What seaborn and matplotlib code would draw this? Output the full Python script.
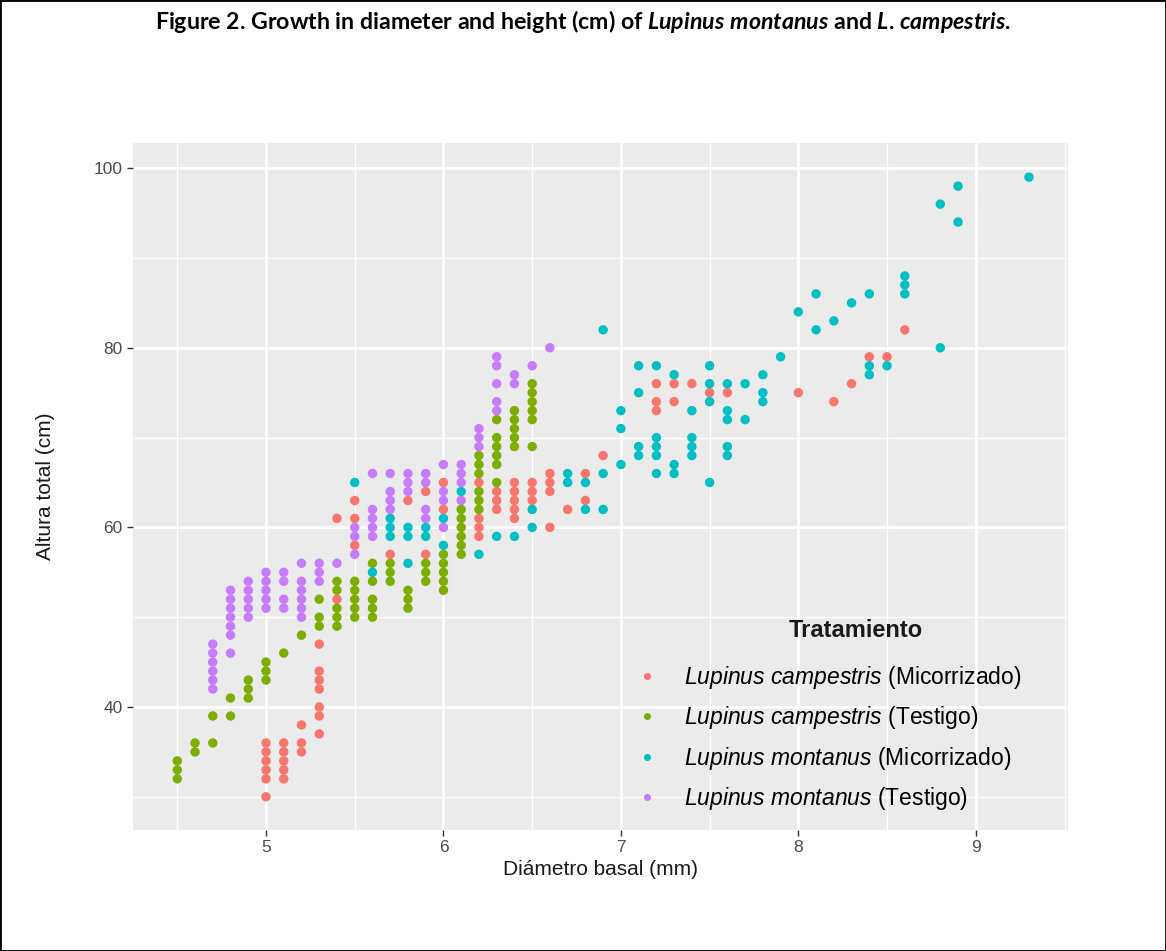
import matplotlib
matplotlib.use("Agg")

import pandas as pd
import seaborn as sns
from matplotlib import pyplot as plt
from matplotlib.patches import Rectangle

GROUPS = [
    "Lupinus campestris (Micorrizado)",
    "Lupinus campestris (Testigo)",
    "Lupinus montanus (Micorrizado)",
    "Lupinus montanus (Testigo)",
]
LEGEND_LABELS = [
    r"$\it{Lupinus\ campestris}$ (Micorrizado)",
    r"$\it{Lupinus\ campestris}$ (Testigo)",
    r"$\it{Lupinus\ montanus}$ (Micorrizado)",
    r"$\it{Lupinus\ montanus}$ (Testigo)",
]
COLORS = ["#F8766D", "#7CAE00", "#00BFC4", "#C77CFF"]

# basal diameter (mm) -> total heights (cm)
campestris_mic = [
    (5.0, [30, 32, 33, 34, 35, 36]), (5.1, [32, 33, 34, 35, 36]), (5.2, [35, 36, 38]),
    (5.3, [37, 39, 40, 42, 43, 44, 47]), (5.4, [52, 61]), (5.5, [58, 61, 63]),
    (5.7, [57]), (5.8, [63]), (5.9, [57, 64]), (6.0, [62, 65]),
    (6.2, [59, 60, 61, 65]), (6.3, [62, 63, 64]), (6.4, [61, 62, 63, 64, 65]),
    (6.5, [63, 64, 65]), (6.6, [60, 64, 65, 66]), (6.7, [62]), (6.8, [63, 66]),
    (6.9, [68]), (7.2, [73, 74, 76]), (7.3, [74, 76]), (7.4, [76]), (7.5, [75]),
    (7.6, [75]), (8.0, [75]), (8.2, [74]), (8.3, [76]), (8.4, [79]), (8.5, [79]),
    (8.6, [82]),
]
campestris_tes = [
    (4.5, [32, 33, 34]), (4.6, [35, 36]), (4.7, [36, 39]), (4.8, [39, 41]),
    (4.9, [41, 42, 43]), (5.0, [43, 44, 45]), (5.1, [46]), (5.2, [48]),
    (5.3, [49, 50, 52]), (5.4, [49, 50, 51, 53, 54]), (5.5, [50, 51, 52, 53, 54]),
    (5.6, [50, 51, 52, 54, 56]), (5.7, [54, 55, 56]), (5.8, [51, 52, 53]),
    (5.9, [54, 55, 56]), (6.0, [53, 54, 55, 56, 57]), (6.1, [57, 58, 59, 60, 61, 62]),
    (6.2, [62, 63, 64, 66, 67, 68]), (6.3, [65, 67, 68, 69, 70, 72]),
    (6.4, [69, 70, 71, 72, 73]), (6.5, [69, 72, 73, 74, 75, 76]),
]
montanus_mic = [
    (5.5, [65]), (5.6, [55]), (5.7, [59, 60, 61]), (5.8, [56, 59, 60]), (5.9, [59, 60]),
    (6.0, [58, 61]), (6.1, [64]), (6.2, [57]), (6.3, [59]), (6.4, [59]),
    (6.5, [60, 62]), (6.7, [65, 66]), (6.8, [62, 65]), (6.9, [62, 66, 82]),
    (7.0, [67, 71, 73]), (7.1, [68, 69, 75, 78]), (7.2, [66, 68, 69, 70, 78]),
    (7.3, [66, 67, 77]), (7.4, [68, 69, 70, 73]), (7.5, [65, 74, 76, 78]),
    (7.6, [68, 69, 72, 73, 76]), (7.7, [72, 76]), (7.8, [74, 75, 77]), (7.9, [79]),
    (8.0, [84]), (8.1, [82, 86]), (8.2, [83]), (8.3, [85]), (8.4, [77, 78, 86]),
    (8.5, [78]), (8.6, [86, 87, 88]), (8.8, [80, 96]), (8.9, [94, 98]), (9.3, [99]),
]
montanus_tes = [
    (4.7, [42, 43, 44, 45, 46, 47]), (4.8, [46, 48, 49, 50, 51, 52, 53]),
    (4.9, [50, 51, 52, 53, 54]), (5.0, [51, 52, 53, 54, 55]), (5.1, [51, 52, 54, 55]),
    (5.2, [50, 51, 52, 53, 54, 56]), (5.3, [54, 55, 56]), (5.4, [56]),
    (5.5, [57, 59, 60]), (5.6, [59, 60, 61, 62, 66]), (5.7, [62, 63, 64, 66]),
    (5.8, [64, 65, 66]), (5.9, [61, 62, 65, 66]), (6.0, [60, 63, 64, 67]),
    (6.1, [63, 65, 66, 67]), (6.2, [69, 70, 71]), (6.3, [73, 74, 76, 78, 79]),
    (6.4, [76, 77]), (6.5, [78]), (6.6, [80]),
]

rows = []
for group, cols in zip(GROUPS, [campestris_mic, campestris_tes, montanus_mic, montanus_tes]):
    for d, hs in cols:
        for h in hs:
            rows.append((d, h, group))
df = pd.DataFrame(rows, columns=["Diametro", "Altura", "Tratamiento"])

plt.rcParams["font.family"] = ["Liberation Sans", "DejaVu Sans"]
plt.rcParams["mathtext.fontset"] = "custom"
plt.rcParams["mathtext.rm"] = "Liberation Sans"
plt.rcParams["mathtext.it"] = "Liberation Sans:italic"
plt.rcParams["mathtext.bfit"] = "Lato:italic:bold"

fig = plt.figure(figsize=(11.66, 9.51), dpi=100)
ax = fig.add_axes([0.114, 0.1272, 0.802, 0.7224])
ax.set_facecolor("#EBEBEB")

sns.scatterplot(data=df, x="Diametro", y="Altura", hue="Tratamiento", hue_order=GROUPS,
                palette=COLORS, s=46, edgecolor="none", linewidth=0, ax=ax, zorder=3)

ax.set_xlim(4.25, 9.52)
ax.set_ylim(26.3, 102.8)
ax.set_xticks([5, 6, 7, 8, 9])
ax.set_yticks([40, 60, 80, 100])
ax.set_xticks([4.5, 5.5, 6.5, 7.5, 8.5, 9.5], minor=True)
ax.set_yticks([30, 50, 70, 90], minor=True)
ax.grid(which="major", color="white", linewidth=2.0, zorder=0)
ax.grid(which="minor", color="white", linewidth=1.0, zorder=0)
ax.set_axisbelow(True)
for s in ax.spines.values():
    s.set_visible(False)
ax.tick_params(which="major", length=4, width=1, color="#333333", labelcolor="#4D4D4D", labelsize=12.5)
ax.tick_params(which="minor", length=0)

ax.set_xlabel("Diámetro basal (mm)", fontsize=15, color="#1A1A1A", labelpad=3)
ax.set_ylabel("Altura total (cm)", fontsize=15, color="#1A1A1A", labelpad=28)

handles, _ = ax.get_legend_handles_labels()
leg = ax.legend(handles, LEGEND_LABELS, loc="lower right",
                bbox_to_anchor=(0.972, -0.004), frameon=False, fontsize=16.5,
                labelspacing=0.59, handletextpad=0.6, handlelength=2.0, markerscale=0.75)
ax.text(0.773, 0.291, "Tratamiento", transform=ax.transAxes, ha="center", va="center",
        fontsize=17, fontweight="bold", color="#1A1A1A")

fig.text(0.5, 0.977,
         r"Figure 2. Growth in diameter and height (cm) of $\mathbfit{Lupinus\ montanus}$ and $\mathbfit{L}$. $\mathbfit{campestris}$.",
         ha="center", va="center", fontsize=16.7, fontweight="bold", family="Lato")

fig.patches.append(Rectangle((0, 0), 1, 1, transform=fig.transFigure, fill=False,
                             edgecolor="black", linewidth=2))

fig.savefig("out.png", dpi=100)
